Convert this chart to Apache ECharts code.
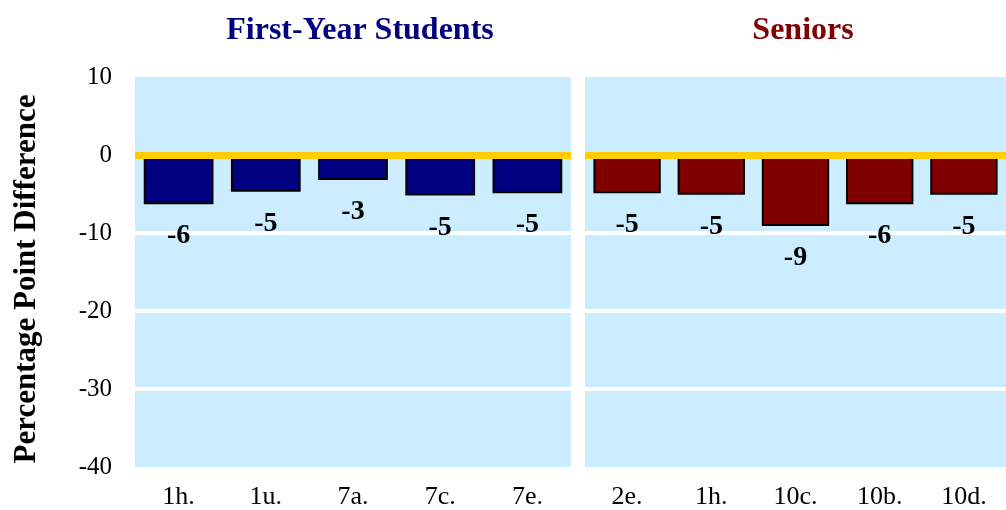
<!DOCTYPE html>
<html>
<head>
<meta charset="utf-8">
<script src="https://cdn.jsdelivr.net/npm/echarts@6/dist/echarts.min.js"></script>
<style>
  html, body { margin: 0; padding: 0; background: #fff; }
  #chart { width: 1006px; height: 510px; }
</style>
</head>
<body>
<div id="chart"></div>
<script>
const firstYearItems = ['1h.', '1u.', '7a.', '7c.', '7e.'];
const firstYearValues = [-6.3, -4.7, -3.2, -5.2, -4.9];
const seniorItems = ['2e.', '1h.', '10c.', '10b.', '10d.'];
const seniorValues = [-4.9, -5.1, -9.1, -6.3, -5.1];
const yTicks = { min: -40, max: 10, step: 10 };

const chart = echarts.init(document.getElementById('chart'));
const font = '"Liberation Serif", "Times New Roman", serif';

// shared axis/series pieces
function makeY(idx, showLabels) {
  return {
    type: 'value',
    gridIndex: idx,
    min: yTicks.min,
    max: yTicks.max,
    interval: yTicks.step,
    axisLine: { show: false },
    axisTick: { show: false },
    axisLabel: {
      show: showLabels,
      color: '#000',
      fontFamily: font,
      fontSize: 25,
      margin: 23
    },
    splitLine: {
      show: true,
      showMinLine: false,
      showMaxLine: false,
      lineStyle: { color: '#ffffff', width: 4 }
    }
  };
}

function makeX(idx, data) {
  return {
    type: 'category',
    gridIndex: idx,
    data: data,
    axisLine: { show: false },
    axisTick: { show: false },
    axisLabel: {
      color: '#000',
      fontFamily: font,
      fontSize: 26,
      margin: 17
    },
    splitLine: { show: false }
  };
}

function makeBars(idx, values, color) {
  return {
    type: 'bar',
    xAxisIndex: idx,
    yAxisIndex: idx,
    data: values,
    barWidth: '80%',
    itemStyle: {
      color: color,
      borderColor: '#000',
      borderWidth: 2
    },
    label: {
      show: true,
      position: 'bottom',
      distance: 18,
      color: '#000',
      fontFamily: font,
      fontSize: 28,
      fontWeight: 'bold',
      formatter: p => Math.round(p.value)
    },
    markLine: {
      silent: true,
      symbol: 'none',
      label: { show: false },
      lineStyle: { color: '#FFCC00', width: 7, type: 'solid' },
      data: [{ yAxis: 0 }],
      z: 10
    }
  };
}

const option = {
  backgroundColor: '#ffffff',
  animation: false,
  title: [
    {
      text: 'First-Year Students',
      left: 355,
      top: 10,
      textAlign: 'center',
      textStyle: { color: '#000080', fontFamily: font, fontSize: 32, fontWeight: 'bold' }
    },
    {
      text: 'Seniors',
      left: 798,
      top: 10,
      textAlign: 'center',
      textStyle: { color: '#800000', fontFamily: font, fontSize: 32, fontWeight: 'bold' }
    }
  ],
  graphic: [
    {
      type: 'text',
      x: 27,
      y: 279,
      rotation: Math.PI / 2,
      style: {
        text: 'Percentage Point Difference',
        fill: '#000',
        font: 'bold 31px ' + font,
        textAlign: 'center',
        textVerticalAlign: 'middle'
      }
    }
  ],
  grid: [
    { left: 135, top: 77, width: 436, height: 390, show: true, backgroundColor: '#CCECFF', borderWidth: 0 },
    { left: 585, top: 77, width: 429, height: 390, show: true, backgroundColor: '#CCECFF', borderWidth: 0 }
  ],
  xAxis: [makeX(0, firstYearItems), makeX(1, seniorItems)],
  yAxis: [makeY(0, true), makeY(1, false)],
  series: [
    makeBars(0, firstYearValues, '#000080'),
    makeBars(1, seniorValues, '#800000')
  ]
};
chart.setOption(option);
</script>
</body>
</html>
